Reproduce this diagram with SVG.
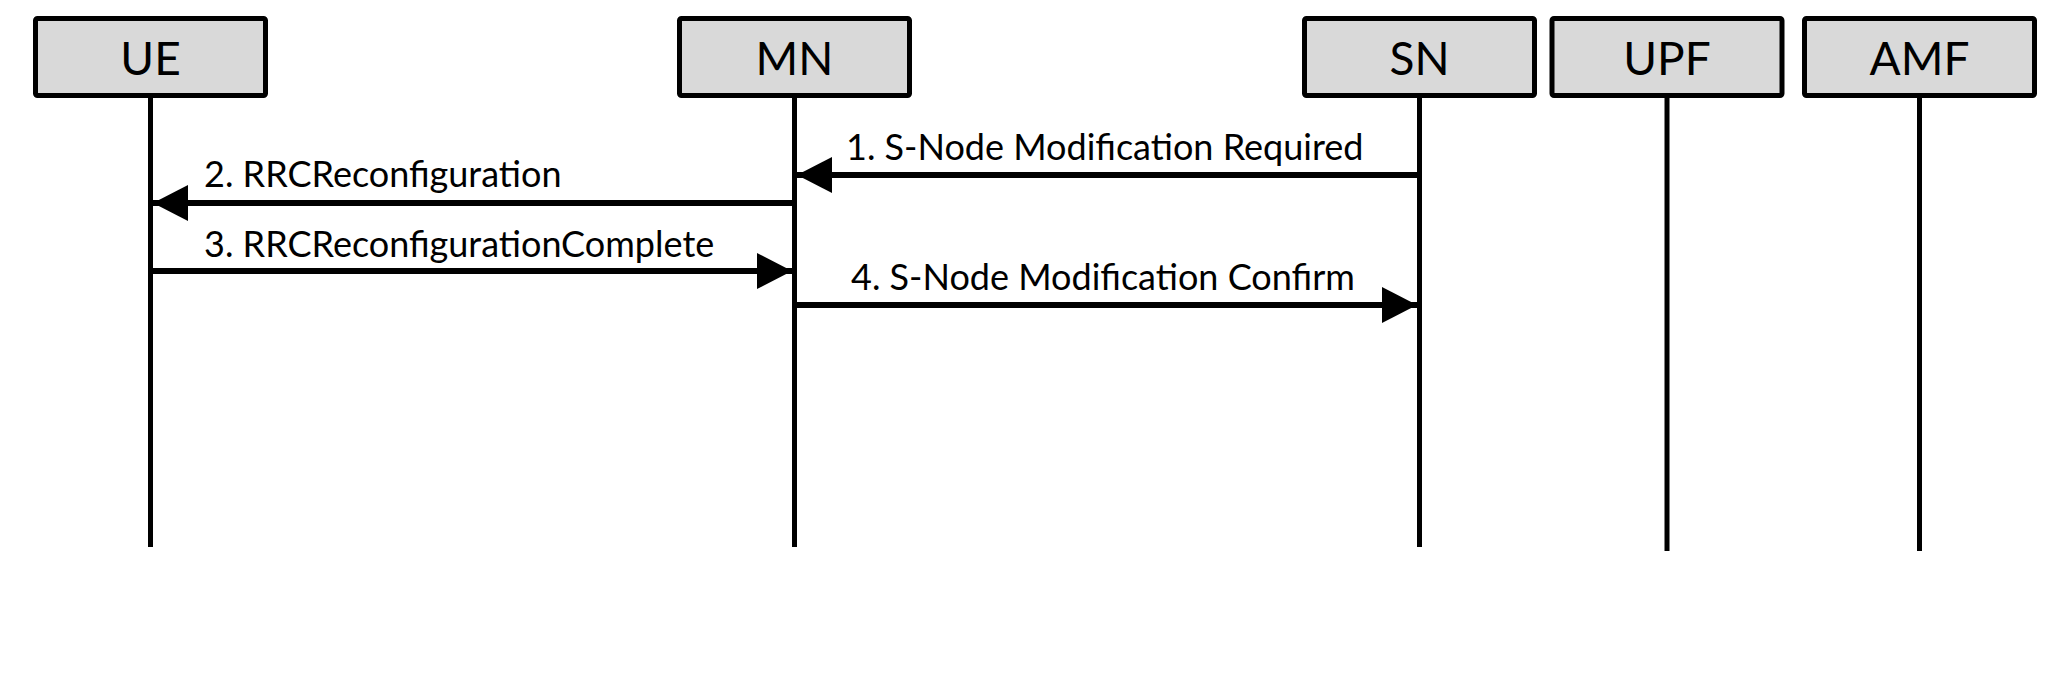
<svg xmlns="http://www.w3.org/2000/svg" width="2048" height="682" viewBox="0 0 2048 682">
<style>
.box{fill:#d9d9d9;stroke:#000;stroke-width:5}
.life{stroke:#000;stroke-width:5}
.hdr{font-family:Lato,"Liberation Sans",sans-serif;font-size:46px;text-anchor:middle;fill:#000}
.msg{stroke:#000;stroke-width:6;fill:none}
.lbl{font-family:Lato,"Liberation Sans",sans-serif;font-size:36px;fill:#000}
</style>
<defs>
<marker id="ah" markerUnits="userSpaceOnUse" markerWidth="37" markerHeight="38" refX="35" refY="18" orient="auto">
<path d="M0,0 L35,18 L0,36 Z" fill="#000"/>
</marker>
</defs>
<rect width="2048" height="682" fill="#fff"/>
<g id="UE">
<rect class="box" x="35.5" y="18.5" width="230" height="77" rx="2"/>
<text class="hdr" x="150.5" y="75">UE</text>
<line class="life" x1="150.5" y1="98" x2="150.5" y2="547"/>
</g>
<g id="MN">
<rect class="box" x="679.5" y="18.5" width="230" height="77" rx="2"/>
<text class="hdr" x="794.5" y="75">MN</text>
<line class="life" x1="794.5" y1="98" x2="794.5" y2="547"/>
</g>
<g id="SN">
<rect class="box" x="1304.5" y="18.5" width="230" height="77" rx="2"/>
<text class="hdr" x="1419.5" y="75">SN</text>
<line class="life" x1="1419.5" y1="98" x2="1419.5" y2="547"/>
</g>
<g id="UPF">
<rect class="box" x="1552" y="18.5" width="230" height="77" rx="2"/>
<text class="hdr" x="1667" y="75">UPF</text>
<line class="life" x1="1667" y1="98" x2="1667" y2="551"/>
</g>
<g id="AMF">
<rect class="box" x="1804.5" y="18.5" width="230" height="77" rx="2"/>
<text class="hdr" x="1919.5" y="75">AMF</text>
<line class="life" x1="1919.5" y1="98" x2="1919.5" y2="551"/>
</g>
<g id="connectors">
<line class="msg" x1="1419.5" y1="175" x2="797" y2="175" marker-end="url(#ah)"/>
<text class="lbl" x="846" y="160">1. S-Node Modification Required</text>
<line class="msg" x1="794.5" y1="203" x2="153" y2="203" marker-end="url(#ah)"/>
<text class="lbl" x="204" y="187">2. RRCReconfiguration</text>
<line class="msg" x1="150.5" y1="271" x2="792" y2="271" marker-end="url(#ah)"/>
<text class="lbl" x="204" y="257">3. RRCReconfigurationComplete</text>
<line class="msg" x1="794.5" y1="305" x2="1417" y2="305" marker-end="url(#ah)"/>
<text class="lbl" x="851" y="290">4. S-Node Modification Confirm</text>
</g>
</svg>
